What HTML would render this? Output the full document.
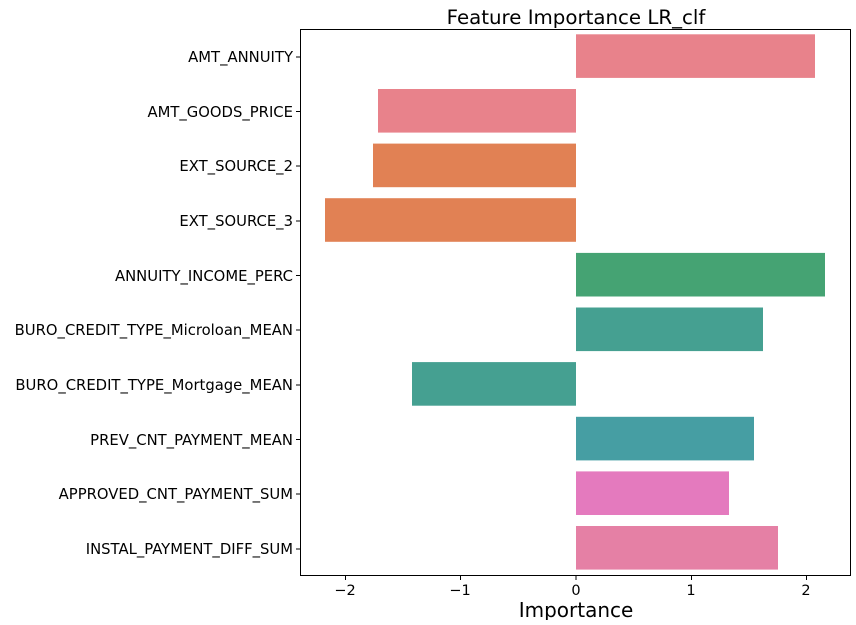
<!DOCTYPE html>
<html><head><style>
body{margin:0;background:#fff;}
svg text{font-family:"DejaVu Sans","Liberation Sans",sans-serif;fill:#000;}
</style></head><body>
<svg width="856" height="620" xmlns="http://www.w3.org/2000/svg">
<text x="576" y="24" font-size="19.8" text-anchor="middle">Feature Importance LR_clf</text>
<g>
<rect x="576" y="34.3" width="239" height="43.6" fill="#e8828b"/>
<rect x="378" y="89" width="198" height="43.6" fill="#e8828b"/>
<rect x="373" y="143.6" width="203" height="43.6" fill="#e18154"/>
<rect x="325" y="198.2" width="251" height="43.6" fill="#e18154"/>
<rect x="576" y="252.9" width="249" height="43.6" fill="#45a373"/>
<rect x="576" y="307.5" width="187" height="43.6" fill="#45a091"/>
<rect x="412" y="362.1" width="164" height="43.6" fill="#45a091"/>
<rect x="576" y="416.8" width="178" height="43.6" fill="#469ea3"/>
<rect x="576" y="471.4" width="153" height="43.6" fill="#e47abe"/>
<rect x="576" y="526" width="202" height="43.6" fill="#e580a5"/>
</g>
<rect x="300.5" y="29.5" width="550" height="546" fill="none" stroke="#000" stroke-width="1"/>
<g stroke="#000" stroke-width="1">
<line x1="345.5" y1="576" x2="345.5" y2="580"/>
<line x1="460.5" y1="576" x2="460.5" y2="580"/>
<line x1="576" y1="576" x2="576" y2="580"/>
<line x1="691.5" y1="576" x2="691.5" y2="580"/>
<line x1="806.5" y1="576" x2="806.5" y2="580"/>
</g>
<g font-size="14.5" text-anchor="middle">
<text x="345" y="595">−2</text>
<text x="460" y="595">−1</text>
<text x="576" y="595">0</text>
<text x="691" y="595">1</text>
<text x="806" y="595">2</text>
</g>
<text x="576" y="617" font-size="20" text-anchor="middle">Importance</text>
<g stroke="#000" stroke-width="1">
<line x1="296" y1="57" x2="300" y2="57"/><line x1="296" y1="111.5" x2="300" y2="111.5"/>
<line x1="296" y1="166" x2="300" y2="166"/><line x1="296" y1="221" x2="300" y2="221"/>
<line x1="296" y1="275.5" x2="300" y2="275.5"/><line x1="296" y1="330" x2="300" y2="330"/>
<line x1="296" y1="385" x2="300" y2="385"/><line x1="296" y1="439.5" x2="300" y2="439.5"/>
<line x1="296" y1="494" x2="300" y2="494"/><line x1="296" y1="549" x2="300" y2="549"/>
</g>
<g font-size="14.8" text-anchor="end">
<text x="293" y="62">AMT_ANNUITY</text>
<text x="293" y="117">AMT_GOODS_PRICE</text>
<text x="293" y="171">EXT_SOURCE_2</text>
<text x="293" y="226">EXT_SOURCE_3</text>
<text x="293" y="281">ANNUITY_INCOME_PERC</text>
<text x="293" y="335">BURO_CREDIT_TYPE_Microloan_MEAN</text>
<text x="293" y="390">BURO_CREDIT_TYPE_Mortgage_MEAN</text>
<text x="293" y="445">PREV_CNT_PAYMENT_MEAN</text>
<text x="293" y="499">APPROVED_CNT_PAYMENT_SUM</text>
<text x="293" y="554">INSTAL_PAYMENT_DIFF_SUM</text>
</g>
</svg>
</body></html>
